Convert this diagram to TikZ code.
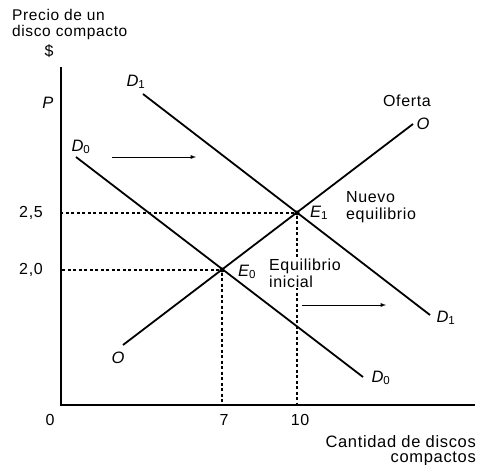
\documentclass[tikz,border=0pt]{standalone}
\usepackage{fontspec}
\setmainfont{Liberation Sans}[LetterSpace=4]
\usepackage{tikz}
\usetikzlibrary{arrows}

\newcommand{\sublab}[2]{\textit{#1}\textsubscript{\upshape #2}}

\begin{document}
\begin{tikzpicture}[x=1pt, y=-1pt, every node/.style={inner sep=0pt, font=\fontsize{16}{17}\selectfont}, curve/.style={line width=1.8pt}, axis/.style={line width=1.5pt}, guide/.style={line width=1.1pt, dash pattern=on 3pt off 2.5pt}, shiftarrow/.style={-latex, line width=0.9pt}, lab/.style={font=\fontsize{16.5}{17}\selectfont\itshape}, dot/.style={circle, fill, minimum size=5pt}]
                \useasboundingbox (0,0) rectangle (477,465);
                % points
                \coordinate (origin) at (61,405);
                \coordinate (ytop) at (61,67);
                \coordinate (xend) at (475,405);
                \coordinate (d0a) at (76,157);
                \coordinate (d0b) at (363,377);
                \coordinate (d1a) at (143,94);
                \coordinate (d1b) at (430,315);
                \coordinate (oa) at (123,345);
                \coordinate (ob) at (413,124);
                \coordinate (arr0a) at (112,157);
                \coordinate (arr0b) at (196,157);
                \coordinate (arr1a) at (302,305);
                \coordinate (arr1b) at (386,305);
                \node[dot] (E0) at (222,270) {};
                \node[dot] (E1) at (297,213) {};
                % edges
                \draw[axis] (ytop) -- (origin) -- (xend);
                \draw[guide] (E1) -- (E1 -| origin);
                \draw[guide] (E0) -- (E0 -| origin);
                \draw[guide] (E1) -- (E1 |- origin);
                \draw[guide] (E0) -- (E0 |- origin);
                \draw[curve] (d0a) -- (d0b);
                \draw[curve] (d1a) -- (d1b);
                \draw[curve] (oa) -- (ob);
                \draw[shiftarrow] (arr0a) -- (arr0b);
                \draw[shiftarrow] (arr1a) -- (arr1b);
                % nodes
                \node[anchor=north west, align=left, font=\fontsize{15.5}{16}\selectfont] (ytitle) at (12,9) {Precio de un\\disco compacto};
                \node (dollar) at (49,51) {\$};
                \node[lab] (P) at (48,103) {P};
                \node (p25) at (31,213) {2,5};
                \node (p20) at (31,270) {2,0};
                \node (q0) at (50,420) {0};
                \node (q7) at (224,420) {7};
                \node (q10) at (300,420) {10};
                \node[anchor=north east, align=right, font=\fontsize{16.5}{15.5}\selectfont] (xtitle) at (476,435) {Cantidad de discos\\compactos};
                \node[lab] (D1top) at (136,82) {\sublab{D}{1}};
                \node[lab] (D0top) at (81,147) {\sublab{D}{0}};
                \node[lab] (D1end) at (446,318) {\sublab{D}{1}};
                \node[lab] (D0end) at (381,378) {\sublab{D}{0}};
                \node[lab] (Olow) at (118,358) {O};
                \node[lab] (Ohigh) at (423,124) {O};
                \node (oferta) at (407,101) {Oferta};
                \node[lab] (E1lab) at (319,213) {\sublab{E}{1}};
                \node[lab] (E0lab) at (247,272) {\sublab{E}{0}};
                \node[anchor=west, align=left] (nuevo) at (346,207) {Nuevo\\equilibrio};
                \node[anchor=west, align=left, fill=white, inner sep=1pt] (inicial) at (268,273) {Equilibrio\\inicial};
            \end{tikzpicture}
\end{document}
